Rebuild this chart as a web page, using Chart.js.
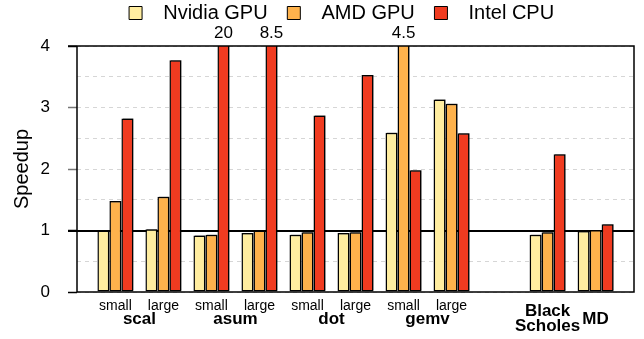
<!DOCTYPE html>
<html lang="en">
<head>
    <meta charset="UTF-8" />
    <title>Speedup</title>
    <style>
        body { margin: 0; background: #fff; }
        #wrap { width: 644px; height: 339px; }
    </style>
</head>
<body>
    <div id="wrap"><canvas id="chart"></canvas></div>
    <script src="https://cdn.jsdelivr.net/npm/chart.js"></script>
    <script>
        // slot labels (one per x slot, slot 8 is an empty gap)
        const slotLabels = ['small', 'large', 'small', 'large', 'small', 'large', 'small', 'large', '', '', ''];
        const slotGroups = ['scal', 'scal', 'asum', 'asum', 'dot', 'dot', 'gemv', 'gemv', null, 'Black\nScholes', 'MD'];
        const usedSlots = [0, 1, 2, 3, 4, 5, 6, 7, 9, 10];

        const nvidia = [1.00, 1.02, 0.92, 0.96, 0.93, 0.96, 2.59, 3.13, 0.93, 0.99];
        const amd    = [1.48, 1.55, 0.93, 1.00, 0.97, 0.97, 4.5, 3.06, 0.97, 1.01];
        const intel  = [2.82, 3.77, 20, 8.5, 2.87, 3.53, 1.98, 2.58, 2.24, 1.10];

        const yTicks = [0, 1, 2, 3, 4];

        const FONT = '"Liberation Sans", Arial, Helvetica, sans-serif';
        const Y_MAX = 4;

        function pts(vals) {
            return vals.map((v, i) => ({ x: usedSlots[i], y: v }));
        }

        // baseline at speedup 1, behind the bars
        const unityLine = {
            id: 'unityLine',
            beforeDatasetsDraw(chart) {
                const { ctx, chartArea: a, scales } = chart;
                const y1 = Math.round(scales.y.getPixelForValue(1));
                ctx.save();
                ctx.strokeStyle = '#000';
                ctx.lineWidth = 2;
                ctx.beginPath();
                ctx.moveTo(a.left - 9, y1);
                ctx.lineTo(a.right, y1);
                ctx.stroke();
                ctx.restore();
            }
        };

        // frame, group labels and clipped values
        const extras = {
            id: 'extras',
            afterDatasetsDraw(chart) {
                const { ctx, chartArea: a, scales } = chart;
                const x = scales.x;
                ctx.save();
                ctx.strokeStyle = '#000';
                ctx.lineWidth = 1.5;
                ctx.beginPath();
                ctx.moveTo(a.left - 9, a.top);
                ctx.lineTo(a.right, a.top);
                ctx.lineTo(a.right, a.bottom);
                ctx.lineTo(a.left, a.bottom);
                ctx.lineTo(a.left, a.top);
                ctx.stroke();

                // values that are cut at the top
                ctx.fillStyle = '#000';
                ctx.font = '17px ' + FONT;
                ctx.textAlign = 'center';
                ctx.textBaseline = 'middle';
                chart.data.datasets.forEach((ds, di) => {
                    const meta = chart.getDatasetMeta(di);
                    ds.data.forEach((p, i) => {
                        if (p.y > Y_MAX) {
                            ctx.fillText(String(p.y), meta.data[i].x, a.top - 13);
                        }
                    });
                });

                // group labels
                ctx.font = 'bold 17px ' + FONT;
                const seen = {};
                slotGroups.forEach((g, i) => {
                    if (!g) return;
                    (seen[g] = seen[g] || []).push(i);
                });
                Object.keys(seen).forEach(g => {
                    const s = seen[g];
                    const cx = x.getPixelForValue(s.reduce((p, c) => p + c, 0) / s.length);
                    const lines = g.split('\n');
                    if (lines.length === 1) {
                        ctx.fillText(lines[0], cx, a.bottom + 27);
                    } else {
                        ctx.fillText(lines[0], cx, a.bottom + 19);
                        ctx.fillText(lines[1], cx, a.bottom + 34);
                    }
                });
                ctx.restore();
            }
        };

        const shadow = {
            id: 'shadow',
            beforeDatasetsDraw(chart) {
                const ctx = chart.ctx;
                ctx.save();
                ctx.shadowColor = 'rgba(0,0,0,0.5)';
                ctx.shadowOffsetX = 1.5;
                ctx.shadowOffsetY = -1;
                ctx.shadowBlur = 0;
            },
            afterDatasetsDraw(chart) {
                chart.ctx.restore();
            }
        };

        const barStyle = { borderColor: '#000', borderWidth: 1.5, borderSkipped: false,
            categoryPercentage: 0.75, barPercentage: 1 };

        new Chart(document.getElementById('chart'), {
            type: 'bar',
            data: {
                datasets: [
                    { label: 'Nvidia GPU', data: pts(nvidia), backgroundColor: '#FFEDA0', ...barStyle },
                    { label: 'AMD GPU', data: pts(amd), backgroundColor: '#FEB24C', ...barStyle },
                    { label: 'Intel CPU', data: pts(intel), backgroundColor: '#F03B20', ...barStyle }
                ]
            },
            options: {
                responsive: true,
                maintainAspectRatio: false,
                animation: false,
                layout: { padding: { left: 0, right: 10, top: 0, bottom: 0 } },
                plugins: {
                    tooltip: { enabled: false },
                    legend: {
                        position: 'top',
                        fullSize: false,
                        labels: {
                            boxWidth: 13,
                            boxHeight: 13,
                            padding: 3,
                            color: '#000',
                            font: { family: FONT, size: 20, lineHeight: 1 },
                            generateLabels(chart) {
                                const items = Chart.defaults.plugins.legend.labels.generateLabels(chart);
                                items.forEach((it, i) => {
                                    it.text = '  ' + it.text + (i === items.length - 1 ? '     ' : '   ');
                                    it.lineWidth = 1;
                                });
                                return items;
                            }
                        },
                        onClick: null
                    },
                    // empty spacer between the legend and the plot
                    title: {
                        display: true,
                        text: '',
                        weight: 500,
                        font: { size: 1, lineHeight: 1 },
                        padding: { top: 0, bottom: 12 }
                    }
                },
                scales: {
                    x: {
                        type: 'linear',
                        min: -0.8,
                        max: 10.8,
                        offset: false,
                        afterBuildTicks(scale) {
                            scale.ticks = slotLabels.map((l, i) => ({ value: i }));
                        },
                        afterFit(scale) { scale.height = 47; },
                        grid: { display: false, drawTicks: false, tickLength: 0 },
                        border: { display: false },
                        ticks: {
                            autoSkip: false,
                            maxRotation: 0,
                            padding: 6,
                            color: '#000',
                            font: { family: FONT, size: 14 },
                            callback: (v) => slotLabels[v] || ''
                        }
                    },
                    y: {
                        min: 0,
                        max: Y_MAX,
                        afterBuildTicks(scale) {
                            const t = [];
                            for (let v = 0; v <= Y_MAX; v += 0.5) t.push({ value: v });
                            scale.ticks = t;
                        },
                        afterFit(scale) { scale.width = 77; },
                        border: { display: false, dash: [4, 4] },
                        grid: {
                            color: '#d6d6d6',
                            lineWidth: 1,
                            tickLength: 9,
                            tickColor: (c) => {
                                const v = c.tick ? c.tick.value : 0;
                                if (!yTicks.includes(v)) return 'rgba(0,0,0,0)';
                                return (v === 2 || v === 3) ? '#777' : '#000';
                            },
                            tickWidth: 1.5
                        },
                        ticks: {
                            padding: 18,
                            color: '#000',
                            font: { family: FONT, size: 17 },
                            callback: (v) => yTicks.includes(v) ? String(v) : ''
                        },
                        title: {
                            display: true,
                            text: 'Speedup',
                            color: '#000',
                            font: { family: FONT, size: 20 },
                            padding: { top: 10, bottom: 0 }
                        }
                    }
                }
            },
            plugins: [unityLine, shadow, extras]
        });
    </script>
</body>
</html>
